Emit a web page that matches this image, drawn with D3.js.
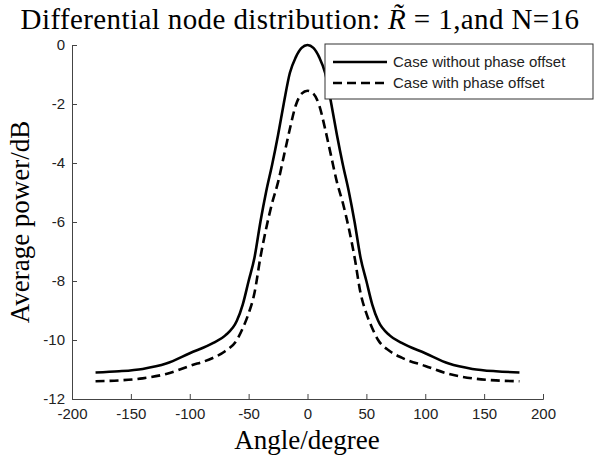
<!DOCTYPE html>
<html><head><meta charset="utf-8">
<script src="https://cdn.jsdelivr.net/npm/d3@7"></script>
<style>body{margin:0;background:#fff}svg{display:block}</style>
</head><body>
<svg id="c" width="595" height="457"></svg>
<script>
const angles = [-180,-160,-140,-120,-100,-80,-70,-60,-55,-50,-45,-40,-35,-30,-25,-20,-15,-10,-5,0,5,10,15,20,25,30,35,40,45,50,55,60,70,80,100,120,140,160,180];
const withoutOffset = [-11.10,-11.06,-10.98,-10.80,-10.45,-10.10,-9.85,-9.35,-8.80,-8.00,-7.20,-6.00,-4.95,-4.05,-3.05,-1.95,-0.95,-0.42,-0.10,0.00,-0.10,-0.42,-0.95,-1.95,-3.05,-4.05,-4.95,-6.00,-7.20,-8.00,-8.80,-9.35,-9.85,-10.10,-10.45,-10.80,-10.98,-11.06,-11.10];
const withOffset = [-11.40,-11.37,-11.30,-11.15,-10.88,-10.60,-10.38,-10.00,-9.60,-9.10,-8.40,-7.20,-6.20,-5.35,-4.65,-3.75,-2.85,-2.05,-1.65,-1.55,-1.65,-2.05,-2.85,-3.75,-4.65,-5.35,-6.20,-7.20,-8.40,-9.10,-9.60,-10.00,-10.38,-10.60,-10.88,-11.15,-11.30,-11.37,-11.40];
const xTicks = [-200,-150,-100,-50,0,50,100,150,200];
const yTicks = [-12,-10,-8,-6,-4,-2,0];
const seriesNames = ["Case without phase offset","Case with phase offset"];

const svg = d3.select("#c");
const x = d3.scaleLinear().domain([-200,200]).range([72,543]);
const y = d3.scaleLinear().domain([-12,0]).range([399,45]);
const axisColor = "#444";
const tickFont = "'Liberation Sans', Arial, sans-serif";
const serif = "'Liberation Serif', 'Times New Roman', serif";
const fmt = d => String(d).replace("\u2212","-");

// axes
const gx = svg.append("g").attr("transform","translate(0,399)")
  .call(d3.axisBottom(x).tickValues(xTicks).tickSize(-5).tickPadding(9).tickFormat(fmt));
const gy = svg.append("g").attr("transform","translate(72,0)")
  .call(d3.axisLeft(y).tickValues(yTicks).tickSize(-5).tickPadding(7).tickFormat(fmt));
[gx,gy].forEach(g=>{
  g.select(".domain").attr("stroke",axisColor).attr("stroke-width",1);
  g.selectAll(".tick line").attr("stroke",axisColor);
  g.selectAll(".tick text").attr("fill","#222").attr("font-family",tickFont).attr("font-size",15);
});
gx.selectAll(".tick text").attr("dy","0.71em");

// lines
const line = (vals)=> d3.line().x((d,i)=>x(angles[i])).y(d=>y(d)).curve(d3.curveMonotoneX)(vals);
svg.append("path").attr("d",line(withoutOffset)).attr("fill","none").attr("stroke","#000").attr("stroke-width",2.6);
svg.append("path").attr("d",line(withOffset)).attr("fill","none").attr("stroke","#000").attr("stroke-width",2.6).attr("stroke-dasharray","9,5");

// title
const t = svg.append("text").attr("x",300).attr("y",29).attr("text-anchor","middle")
  .attr("font-family",serif).attr("font-size",29).attr("letter-spacing",0.4).attr("fill","#000");
t.append("tspan").text("Differential node distribution: ");
t.append("tspan").attr("font-style","italic").text("R\u0303");
t.append("tspan").text(" = 1,and N=16");

// axis labels
svg.append("text").attr("x",307).attr("y",449).attr("text-anchor","middle")
  .attr("font-family",serif).attr("font-size",27).attr("fill","#000").text("Angle/degree");
svg.append("text").attr("transform","translate(29,222) rotate(-90)").attr("text-anchor","middle")
  .attr("font-family",serif).attr("font-size",27).attr("fill","#000").text("Average power/dB");

// legend
const lg = svg.append("g");
lg.append("rect").attr("x",325).attr("y",44).attr("width",268).attr("height",55)
  .attr("fill","#fff").attr("stroke","#333").attr("stroke-width",1);
const ly = [62,83];
seriesNames.forEach((n,i)=>{
  lg.append("line").attr("x1",333).attr("x2",387).attr("y1",ly[i]).attr("y2",ly[i])
    .attr("stroke","#000").attr("stroke-width",2.6).attr("stroke-dasharray", i? "9,5":null);
  lg.append("text").attr("x",393).attr("y",ly[i]+5).attr("font-family",tickFont).attr("font-size",15)
    .attr("fill","#222").text(n);
});
</script>
</body></html>
